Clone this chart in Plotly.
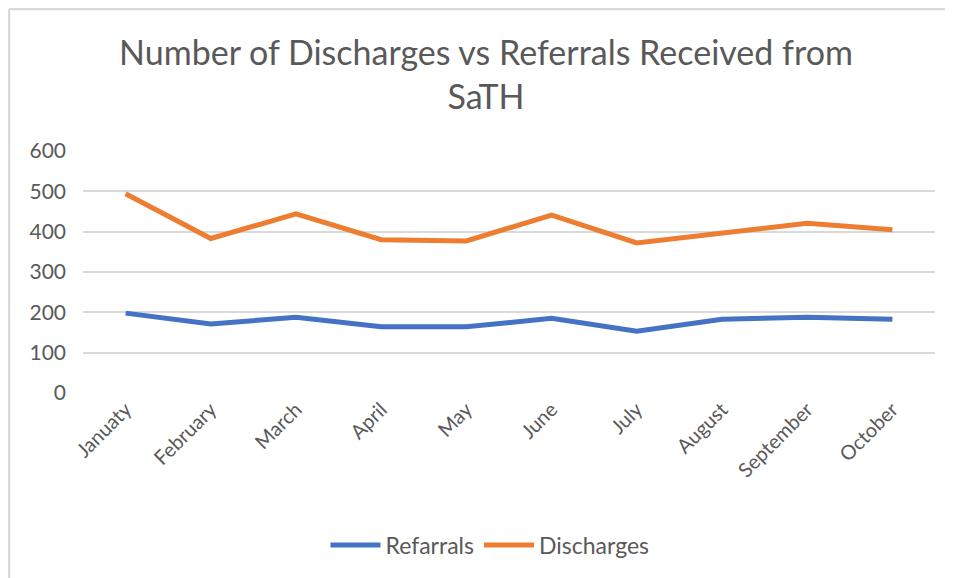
import plotly.graph_objects as go

months = ["Januaty", "February", "March", "April", "May", "June", "July", "August", "September", "October"]
referrals = [198, 171, 188, 164, 164, 185, 153, 183, 188, 183]
discharges = [494, 383, 444, 380, 377, 441, 372, 398, 421, 405]
y_ticks = [0, 100, 200, 300, 400, 500, 600]

# page has an 8px body margin, so the figure is offset by 8px
OFF = 8
W, H = 953 - OFF, 578 - OFF
L, R, T, B = 83 - OFF, 18, 151 - OFF, 185
pw, ph = W - L - R, H - T - B

def px(x):  # page x -> paper
    return (x - OFF - L) / pw

def py(y):  # page y -> paper
    return (H - B - (y - OFF)) / ph

grey = "#595959"
font = "Lato"

fig = go.Figure()
fig.add_trace(go.Scatter(x=months, y=referrals, mode="lines", name="Refarrals",
                         line=dict(color="#4472C4", width=5)))
fig.add_trace(go.Scatter(x=months, y=discharges, mode="lines", name="Discharges",
                         line=dict(color="#ED7D31", width=5)))

fig.update_layout(
    width=W, height=H,
    margin=dict(l=L, r=R, t=T, b=B),
    paper_bgcolor="white", plot_bgcolor="white",
    font=dict(family=font, color=grey, size=20),
    title=dict(text="Number of Discharges vs Referrals Received from<br>SaTH",
               x=(486 - OFF) / W, xanchor="center", xref="container",
               y=1 - 57 / H, yanchor="top", yref="container",
               font=dict(family=font, size=34, color=grey)),
    xaxis=dict(type="category", range=[-0.5, 9.5], tickangle=-45,
               showgrid=False, showline=False, ticks="", zeroline=False,
               tickfont=dict(size=20, color=grey)),
    yaxis=dict(range=[0, 600], tickvals=y_ticks, showgrid=True,
               gridcolor="#d9d9d9", gridwidth=1.5, zeroline=False,
               showline=False, ticks="", ticklabelstandoff=16,
               tickfont=dict(size=21, color=grey)),
    legend=dict(orientation="h", x=px(490), xanchor="center",
                y=py(545), yanchor="middle", itemwidth=50,
                font=dict(size=23, color=grey)),
    showlegend=True,
)

# outer chart border (visible top and left edges)
fig.add_shape(type="line", xref="paper", yref="paper",
              x0=px(9), x1=px(953), y0=py(9), y1=py(9),
              line=dict(color="#d9d9d9", width=2.5))
fig.add_shape(type="line", xref="paper", yref="paper",
              x0=px(9), x1=px(9), y0=py(9), y1=py(578),
              line=dict(color="#d9d9d9", width=2.5))

fig.write_html("out.html")
